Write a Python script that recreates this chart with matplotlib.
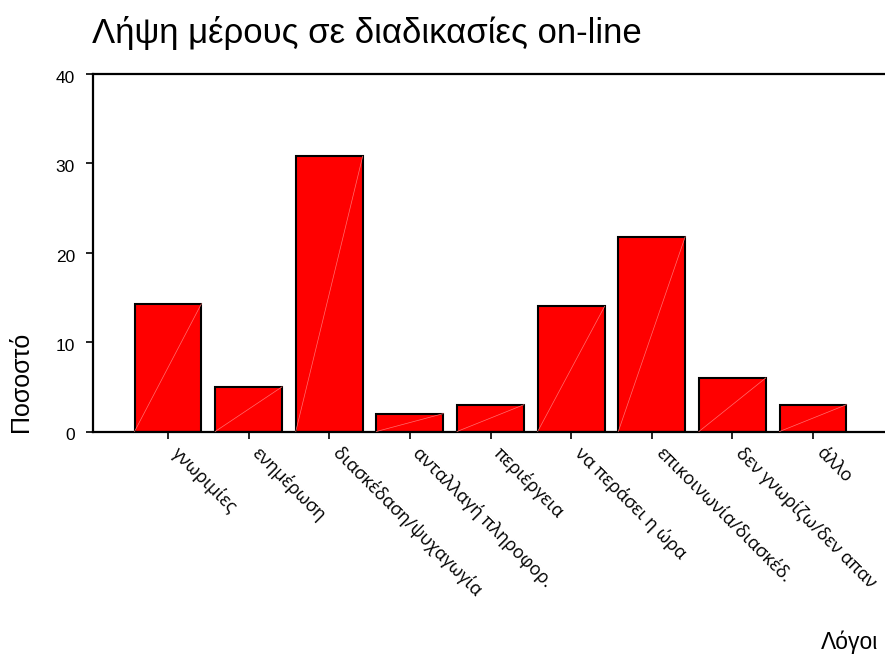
import matplotlib
matplotlib.use("Agg")
import matplotlib.pyplot as plt
from matplotlib.transforms import ScaledTranslation
import numpy as np

categories = ["γνωριμίες", "ενημέρωση", "διασκέδαση/ψυχαγωγία", "ανταλλαγή πληροφορ.",
              "περιέργεια", "να περάσει η ώρα", "επικοινωνία/διασκέδ.",
              "δεν γνωρίζω/δεν απαν", "άλλο"]
values = [14.3, 5.0, 30.8, 2.0, 3.0, 14.0, 21.8, 6.0, 3.0]
yticks = [0, 10, 20, 30, 40]

title = "Λήψη μέρους σε διαδικασίες on-line"
ylabel = "Ποσοστό"
xlabel = "Λόγοι"

W, H = 885, 657
fig = plt.figure(figsize=(W / 100, H / 100), dpi=100)
ax = fig.add_axes([93 / W, (H - 431.5) / H, (888 - 93) / W, (431.5 - 74) / H])

x = np.arange(len(categories))
bw = 0.83
bars = ax.bar(x, values, width=bw, color="#ff0000", edgecolor="black", linewidth=1.5, zorder=2)
for xi, v in zip(x, values):
    ax.plot([xi - bw / 2, xi + bw / 2], [0, v], color="#ff7070", lw=0.5, zorder=3)

ax.set_xlim(-0.93, 8.93)
ax.set_ylim(0, 40)
ax.set_yticks(yticks)
ax.set_yticklabels([str(t) for t in yticks], family="Liberation Sans", fontsize=12.5)
ax.set_xticks(x)
ax.set_xticklabels(categories, rotation=-45, ha="left", va="top", rotation_mode="anchor",
                   family=["Open Sans", "DejaVu Sans"], fontsize=13)
ax.tick_params(axis="both", direction="out", width=1.2, length=5, color="black")
ax.tick_params(axis="x", pad=4)
ax.tick_params(axis="y", pad=8)

shift = ScaledTranslation(13 / 100, 0, fig.dpi_scale_trans)
for lbl in ax.get_xticklabels():
    lbl.set_transform(lbl.get_transform() + shift)
yshift = ScaledTranslation(0, -3 / 100, fig.dpi_scale_trans)
for lbl in ax.get_yticklabels():
    lbl.set_transform(lbl.get_transform() + yshift)

for s in ["left", "bottom", "top"]:
    ax.spines[s].set_linewidth(1.6)
    ax.spines[s].set_color("black")
ax.spines["right"].set_visible(False)

fig.text(92 / W, 1 - 43 / H, title, family="Liberation Sans", fontsize=25, ha="left", va="baseline")
fig.text(21 / W, (H - 432) / H, ylabel, family="Liberation Sans", fontsize=18, rotation=90,
         ha="center", va="bottom")
fig.text(878 / W, 1 - 649 / H, xlabel, family="Liberation Sans", fontsize=16.5, ha="right", va="baseline")

fig.savefig("out.png", dpi=100)
